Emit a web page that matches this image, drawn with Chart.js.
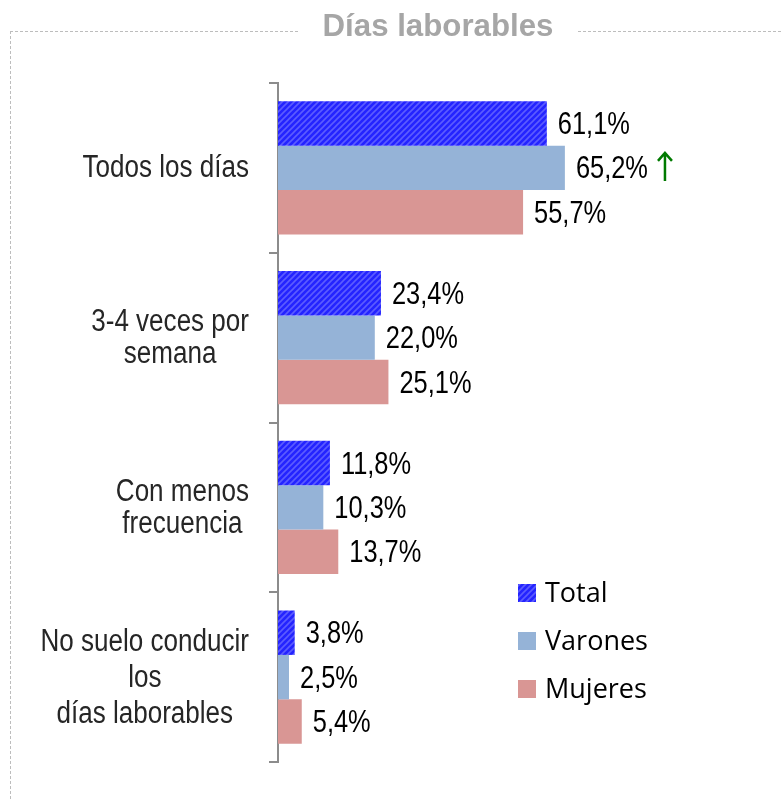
<!DOCTYPE html>
<html>
<head>
<meta charset="utf-8">
<script src="https://cdn.jsdelivr.net/npm/chart.js@4"></script>
<style>
  html, body { margin: 0; padding: 0; background: #fff; }
  #wrap { width: 783px; height: 801px; position: relative; }
</style>
</head>
<body>
<div id="wrap"><canvas id="chart" width="783" height="801"></canvas></div>
<script>
// === DATA ===
const chartTitle = "Días laborables";
const categories = [
  ["Todos los días"],
  ["3-4 veces por", "semana"],
  ["Con menos", "frecuencia"],
  ["No suelo conducir", "los", "días laborables"]
];
const seriesNames = ["Total", "Varones", "Mujeres"];
const total   = [61.1, 23.4, 11.8, 3.8];
const varones = [65.2, 22.0, 10.3, 2.5];
const mujeres = [55.7, 25.1, 13.7, 5.4];
// significant rise markers (series index, category index)
const upArrows = [[1, 0]];

// === HATCH PATTERN FOR TOTAL ===
function hatch() {
  let c = document.createElement("canvas");
  c.width = 6; c.height = 6;
  let g = c.getContext("2d");
  g.fillStyle = "#2424ff";
  g.fillRect(0, 0, 6, 6);
  g.strokeStyle = "#5c5cff";
  g.lineWidth = 1.6;
  g.beginPath();
  g.moveTo(-1, 7); g.lineTo(7, -1);
  g.moveTo(-4, 4); g.lineTo(4, -4);
  g.moveTo(2, 10); g.lineTo(10, 2);
  g.stroke();
  return document.getElementById("chart").getContext("2d").createPattern(c, "repeat");
}

const narrowFont = "31px 'Liberation Sans', Arial, sans-serif";
const SX = 0.82; // horizontal squeeze, imitates a narrow face
const fmt = v => v.toFixed(1).replace(".", ",") + "%";

// draws text squeezed horizontally; returns drawn width
function narrowText(ctx, txt, x, y, align, sx) {
  let w = ctx.measureText(txt).width * sx;
  let left = align === "right" ? x - w : align === "center" ? x - w / 2 : x;
  ctx.save();
  ctx.translate(left, y);
  ctx.scale(sx, 1);
  ctx.textAlign = "left";
  ctx.fillText(txt, 0, 0);
  ctx.restore();
  return w;
}

// === DRAWING EXTRAS ===
const extras = {
  id: "extras",
  afterDraw(chart) {
    let ctx = chart.ctx;
    let y = chart.scales.y;
    ctx.save();
    ctx.textBaseline = "middle";

    // title + dashed frame
    ctx.font = "bold 31px 'Liberation Sans', Arial, sans-serif";
    ctx.fillStyle = "#a6a6a6";
    let tw = ctx.measureText(chartTitle).width;
    narrowText(ctx, chartTitle, 438, 27, "center", 231 / tw);
    ctx.strokeStyle = "#bdbdbd";
    ctx.lineWidth = 1;
    ctx.setLineDash([3, 2]);
    ctx.beginPath();
    ctx.moveTo(10, 31.5); ctx.lineTo(300, 31.5);
    ctx.moveTo(578, 31.5); ctx.lineTo(783, 31.5);
    ctx.moveTo(10.5, 31); ctx.lineTo(10.5, 801);
    ctx.stroke();
    ctx.setLineDash([]);

    // category labels: block right aligned, lines centered in block
    ctx.font = narrowFont;
    ctx.fillStyle = "#262626";
    categories.forEach((lines, i) => {
      let cy = y.getPixelForValue(i) + 1;
      let w = Math.max(...lines.map(l => ctx.measureText(l).width)) * 0.84;
      let cx = 249 - w / 2;
      let lh = lines.length > 2 ? 36 : 32;
      let top = cy - (lines.length - 1) * lh / 2;
      lines.forEach((l, k) => narrowText(ctx, l, cx, top + k * lh, "center", 0.84));
    });

    // value labels
    chart.data.datasets.forEach((ds, di) => {
      chart.getDatasetMeta(di).data.forEach((bar, i) => {
        ctx.font = narrowFont;
        ctx.fillStyle = "#000";
        let w = narrowText(ctx, fmt(ds.data[i]), bar.x + 11, bar.y + 2, "left", SX);
        if (upArrows.some(a => a[0] === di && a[1] === i)) {
          let ax = bar.x + 11 + w + 17;
          ctx.strokeStyle = "#007a00";
          ctx.lineWidth = 2.5;
          ctx.beginPath();
          ctx.moveTo(ax, bar.y + 13); ctx.lineTo(ax, bar.y - 15);
          ctx.moveTo(ax - 7, bar.y - 7); ctx.lineTo(ax, bar.y - 15); ctx.lineTo(ax + 7, bar.y - 7);
          ctx.stroke();
        }
      });
    });

    // legend
    ctx.font = "27px 'Open Sans', sans-serif";
    ctx.textAlign = "left";
    chart.data.datasets.forEach((ds, di) => {
      let ly = 593 + di * 48;
      ctx.fillStyle = ds.backgroundColor;
      ctx.fillRect(518, ly - 9, 18, 18);
      ctx.fillStyle = "#000";
      ctx.fillText(ds.label, 545, ly + 1);
    });
    ctx.restore();
  }
};

// === CHART SETUP ===
let chart = new Chart(document.getElementById("chart"), {
  type: "bar",
  data: {
    labels: categories,
    datasets: [
      { label: seriesNames[0], data: total,   backgroundColor: hatch() },
      { label: seriesNames[1], data: varones, backgroundColor: "#95b3d7" },
      { label: seriesNames[2], data: mujeres, backgroundColor: "#d99694" }
    ]
  },
  options: {
    indexAxis: "y",
    responsive: false,
    animation: false,
    layout: { padding: { top: 83, bottom: 39, left: 0, right: 65 } },
    datasets: { bar: { categoryPercentage: 0.785, barPercentage: 1 } },
    plugins: { legend: { display: false }, tooltip: { enabled: false } },
    scales: {
      x: { display: false, min: 0, max: 100 },
      y: {
        offset: true,
        afterFit(s) { s.width = 278; },
        ticks: { display: false },
        grid: { offset: true, drawOnChartArea: false, tickLength: 9, color: "#8c8c8c", lineWidth: 2 },
        border: { color: "#8c8c8c", width: 2 }
      }
    }
  },
  plugins: [extras]
});
</script>
</body>
</html>
